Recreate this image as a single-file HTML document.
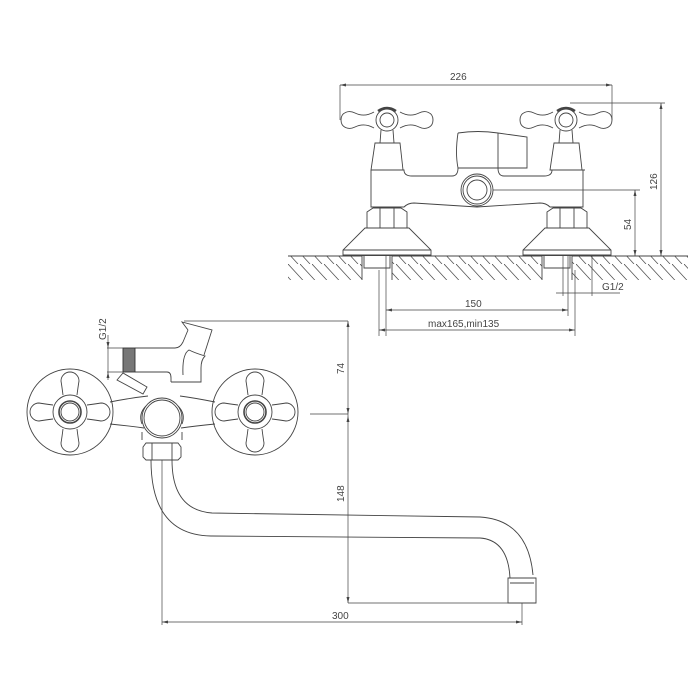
<!DOCTYPE html>
<html><head><meta charset="utf-8"><style>html,body{margin:0;padding:0;background:#fff;}svg{display:block}text{font-family:"Liberation Sans",sans-serif;fill:#444;font-size:10px}</style></head><body>
<svg width="700" height="700" viewBox="0 0 700 700" xmlns="http://www.w3.org/2000/svg">
<defs>
<pattern id="h" width="12" height="24" patternUnits="userSpaceOnUse"><line x1="0" y1="0" x2="22" y2="24" stroke="#555" stroke-width="0.8"/><line x1="-12" y1="0" x2="10" y2="24" stroke="#555" stroke-width="0.8"/></pattern>
<g id="tk">
<path d="M-46,0 c0,-8 8,-10 14,-7 c6,3 12,3 19,-1 M-46,0 c0,8 8,10 14,7 c6,-3 12,-3 19,1 M46,0 c0,-8 -8,-10 -14,-7 c-6,3 -12,3 -19,-1 M46,0 c0,8 -8,10 -14,7 c-6,-3 -12,-3 -19,1"/>
<circle r="11"/><circle r="7"/>
<path d="M-9,-9 q9,-6 18,0" stroke-width="2.5"/>
<path d="M-6,10 L-7,23 M6,10 L7,23"/>
</g>
<path id="arm" d="M-7,-17 q-1,-8 -2,-14 a9,9 0 1 1 18,0 q-1,6 -2,14"/>
<g id="bk">
<circle r="43"/>
<use href="#arm"/>
<use href="#arm" transform="rotate(90)"/>
<use href="#arm" transform="rotate(180)"/>
<use href="#arm" transform="rotate(270)"/>
<circle r="17" fill="#fff"/><circle r="11" stroke-width="1.6"/><circle r="9"/>
</g>
</defs>
<g fill="none" stroke="#444" stroke-width="0.9">
<!-- top view -->
<rect x="288" y="256" width="400" height="24" fill="url(#h)" stroke="none"/>
<line x1="288" y1="256" x2="688" y2="256"/>
<rect x="362" y="256" width="30" height="28" fill="#fff" stroke="none"/>
<rect x="542" y="256" width="30" height="28" fill="#fff" stroke="none"/>
<path d="M364,256 v12 h26 v-12 M544,256 v12 h26 v-12 M362,256 v24 M392,256 v24 M542,256 v24 M572,256 v24"/>
<use href="#tk" x="387" y="120"/>
<use href="#tk" x="566" y="120"/>
<path d="M375,143 h25 l3,27 h-32 z M554,143 h25 l3,27 h-32 z"/>
<path d="M371,170 v37 h33 q4,-4 10,-4 l63,4 l63,-4 q6,0 10,4 h33 v-37"/>
<path d="M371,170 h33 q0,6 8,6 h40 q6,0 6,-8 M498,168 q0,8 6,8 h40 q8,0 8,-6 h33"/>
<path d="M458,133 q20,-3 40,0 v35 h-40 q-3,-15 0,-35 M498,133 l29,4 v31 h-29"/>
<circle cx="477" cy="190" r="16" fill="#fff"/><circle cx="477" cy="190" r="14"/><circle cx="477" cy="190" r="10"/>
<path d="M367,212 l6,-4 h28 l6,4 v16 h-40 z M380,208 v20 M394,208 v20 M547,212 l6,-4 h28 l6,4 v16 h-40 z M560,208 v20 M574,208 v20"/>
<path d="M365,228 h44 l22,22 v5 h-88 v-5 z M343,250 h88 M545,228 h44 l22,22 v5 h-88 v-5 z M523,250 h88"/>
<g stroke-width="0.7">
<path d="M340,85 h272 M340,85 v35 M612,85 v35 M570,103 h95 M661,103 v153 M493,190 h147 M635,190 v66 M386,256 v80 M568,256 v60 M379,270 v66 M575,270 v66 M386,310 h182 M379,330 h196 M556,293 h64 M563,256 v40 M592,256 v40"/>
</g>
<g fill="#444" stroke="none">
<path d="M340,85 l6,-1.5 v3z M612,85 l-6,-1.5 v3z M661,103 l-1.5,6 h3z M661,256 l-1.5,-6 h3z M635,190 l-1.5,6 h3z M635,256 l-1.5,-6 h3z M386,310 l6,-1.5 v3z M568,310 l-6,-1.5 v3z M379,330 l6,-1.5 v3z M575,330 l-6,-1.5 v3z"/>
</g>
<!-- bottom view -->
<path d="M110,402 q20,-4 38,-6 M110,424 q20,2 34,4 M215,402 q-20,-4 -35,-6 M215,424 q-20,2 -34,4"/>
<use href="#bk" x="70" y="412"/>
<use href="#bk" x="255" y="412"/>
<path d="M135,348 h40 q5,0 8,-6 l5,-12 M135,372 h32 q4,0 4,6 v4 M171,382 h30 v-14 q0,-8 4,-12 q-10,-3 -16,-6 q-7,4 -6,25 M188,330 l-6,-8 l30,8 l-8,25"/>
<rect x="123" y="348" width="12" height="24" fill="#777" stroke="#333"/>
<path d="M117,380 l6,-7 l24,14 l-4,7 z"/>
<path d="M142,432 v8 M182,432 v8 M142,424 q-4,-10 4,-18 M182,424 q4,-10 -4,-18"/>
<circle cx="162" cy="418" r="20" fill="#fff"/><circle cx="162" cy="418" r="18"/>
<path d="M143,447 l3,-4 h32 l3,4 v10 l-3,3 h-32 l-3,-3 z M152,443 v17 M172,443 v17"/>
<path d="M172,460 q0,50 40,53 L480,517 q48,3 53,58 M151,460 q0,75 60,76 L480,538 q28,2 30,40"/>
<path d="M508,578 h28 v25 h-28 z M510,583 h24"/>
<g stroke-width="0.7">
<path d="M184,321 h164 M348,321 v282 M310,414 h38 M348,603 h160 M162,460 v165 M522,603 v22 M162,622 h360 M107,348 h16 M107,372 h16 M108,335 v45"/>
</g>
<g fill="#444" stroke="none">
<path d="M348,321 l-1.5,6 h3z M348,414 l-1.5,-6 h3z M348,416 l-1.5,6 h3z M348,603 l-1.5,-6 h3z M162,622 l6,-1.5 v3z M522,622 l-6,-1.5 v3z M108,348 l-1.5,-6 h3z M108,372 l-1.5,6 h3z"/>
</g>
</g>
<text x="450" y="80">226</text>
<text transform="translate(657,190) rotate(-90)">126</text>
<text transform="translate(631,230) rotate(-90)">54</text>
<text x="465" y="307">150</text>
<text x="428" y="327">max165,min135</text>
<text x="602" y="290">G1/2</text>
<text transform="translate(106,340) rotate(-90)">G1/2</text>
<text transform="translate(344,374) rotate(-90)">74</text>
<text transform="translate(344,502) rotate(-90)">148</text>
<text x="332" y="619">300</text>
</svg>
</body></html>
